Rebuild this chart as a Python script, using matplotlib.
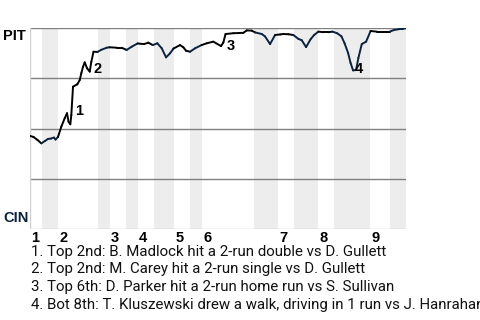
import matplotlib
matplotlib.use("Agg")
import matplotlib.pyplot as plt
from matplotlib.collections import LineCollection
import numpy as np

# Win probability for PIT (1.0 = PIT wins) by play position
play_x = [0.0, 1.0, 2.0, 2.95, 3.875, 4.625, 5.375, 6.125, 6.5, 7.125,
          7.95, 8.8, 9.375, 9.75, 10.2, 10.45, 10.875, 11.95, 12.55, 12.95,
          13.375, 13.8, 14.375, 15.05, 15.45, 16.0, 17.0, 17.875, 19.3, 20.0,
          21.8, 23.05, 24.0, 24.3, 25.55, 27.0, 28.625, 29.7, 30.8, 31.95,
          33.05, 34.125, 35.125, 36.0, 37.625, 38.45, 39.125, 40.125, 41.375, 43.0,
          44.3, 45.95, 47.875, 48.45, 49.0, 50.95, 53.45, 54.3, 55.55, 56.375,
          58.05, 58.875, 60.125, 61.375, 62.625, 63.45, 64.7, 65.95, 67.2, 68.05,
          69.125, 70.25, 71.125, 72.2, 73.45, 74.7, 75.75, 76.875, 77.95, 78.75,
          79.625, 80.25, 80.875, 81.625, 82.2, 83.05, 84.125, 85.25, 86.8, 88.45,
          90.0, 91.125, 92.375, 93.125, 94.1]
win_prob = [0.464, 0.458, 0.443, 0.426, 0.438, 0.448, 0.450, 0.455, 0.445, 0.458,
            0.509, 0.551, 0.576, 0.534, 0.521, 0.567, 0.708, 0.720, 0.741, 0.775,
            0.807, 0.829, 0.800, 0.783, 0.832, 0.882, 0.881, 0.891, 0.902, 0.904,
            0.902, 0.902, 0.893, 0.891, 0.907, 0.923, 0.920, 0.927, 0.915, 0.924,
            0.899, 0.854, 0.874, 0.898, 0.915, 0.904, 0.887, 0.882, 0.899, 0.915,
            0.924, 0.932, 0.910, 0.928, 0.970, 0.974, 0.976, 0.988, 0.987, 0.978,
            0.970, 0.958, 0.920, 0.965, 0.968, 0.970, 0.969, 0.965, 0.946, 0.939,
            0.905, 0.944, 0.965, 0.982, 0.979, 0.979, 0.982, 0.974, 0.959, 0.924,
            0.876, 0.826, 0.789, 0.791, 0.851, 0.920, 0.932, 0.985, 0.982, 0.982,
            0.982, 0.990, 0.994, 0.994, 1.000]

# half-inning start positions (top 1, bot 1, top 2, ...), last = end of game
half_starts = [0, 3, 7, 17, 20, 24, 27, 31, 36, 40, 43, 56, 62, 66, 72, 76, 85, 90, 94.1]
inning_labels = ["1", "2", "3", "4", "5", "6", "7", "8", "9"]

# scoring play markers
marker_labels = ["1", "2", "3", "4"]
marker_x = [11.4, 16.1, 49.3, 81.4]
marker_y = [0.567, 0.776, 0.891, 0.778]

notes = [
    "1. Top 2nd: B. Madlock hit a 2-run double vs D. Gullett",
    "2. Top 2nd: M. Carey hit a 2-run single vs D. Gullett",
    "3. Top 6th: D. Parker hit a 2-run home run vs S. Sullivan",
    "4. Bot 8th: T. Kluszewski drew a walk, driving in 1 run vs J. Hanrahan",
]

away_team = "PIT"
home_team = "CIN"

NAVY = "#0c2340"
BLACK = "#000000"

fig = plt.figure(figsize=(4.8, 3.2), dpi=100)
L, R, T, B = 29.5, 406, 28, 229
ax = fig.add_axes([L / 480, 1 - B / 320, (R - L) / 480, (B - T) / 320])
ax.set_xlim(0, half_starts[-1])
ax.set_ylim(0, 1)

# shaded bottom halves
for i in range(1, len(half_starts) - 1, 2):
    ax.axvspan(half_starts[i], half_starts[i + 1], color="#ededed", lw=0, zorder=0)

for yv in [0.25, 0.5, 0.75, 1.0]:
    ax.axhline(yv, color="#808080", lw=1.0, zorder=1)
ax.axhline(0, color="#cccccc", lw=1.0, zorder=1)
ax.axvline(0, color="#d0d0d0", lw=1.0, zorder=1)

for s in ax.spines.values():
    s.set_visible(False)
ax.set_xticks([])
ax.set_yticks([])
ax.patch.set_alpha(0)

# line colored by half inning
pts = np.column_stack([play_x, win_prob])
segs = np.stack([pts[:-1], pts[1:]], axis=1)
mids = (pts[:-1, 0] + pts[1:, 0]) / 2
hs = np.array(half_starts)
cols = []
for m in mids:
    idx = np.searchsorted(hs, m, side="right") - 1
    cols.append(BLACK if idx % 2 == 0 else NAVY)
lc = LineCollection(segs, colors=cols, linewidths=1.4, zorder=3, capstyle="round", joinstyle="round")
ax.add_collection(lc)

for lab, mx, my in zip(marker_labels, marker_x, marker_y):
    ax.text(mx, my, lab, fontsize=10.5, fontweight="bold", family="Liberation Sans",
            ha="left", va="baseline", color="black", zorder=4)

# inning labels at start of each top half
for k, lab in enumerate(inning_labels):
    ax.text(half_starts[2 * k] + 0.4, -0.012, lab, fontsize=10.5, fontweight="bold",
            family="Liberation Sans", ha="left", va="top", color="black", clip_on=False)

fig.text(3 / 480, 1 - 28.5 / 320, away_team, fontsize=10.5, fontweight="bold",
         family="Liberation Sans", ha="left", va="top", color="black")
fig.text(3 / 480, 1 - 225.5 / 320, home_team, fontsize=10.5, fontweight="bold",
         family="Liberation Sans", ha="left", va="bottom", color=NAVY)

for k, note in enumerate(notes):
    fig.text(31 / 480, 1 - (256 + 17.5 * k) / 320, note, fontsize=10.8, family="Roboto",
             ha="left", va="baseline", color="#111111")

fig.savefig("out.png", dpi=100)
